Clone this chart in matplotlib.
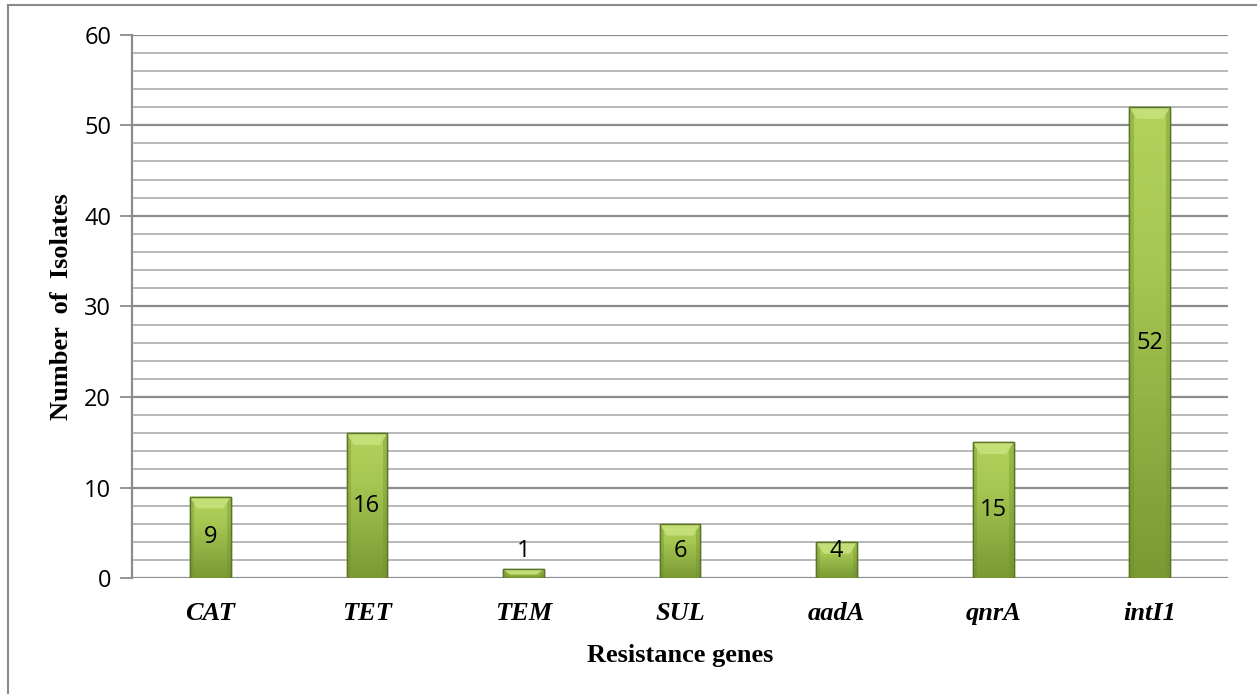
import numpy as np
import matplotlib
matplotlib.use('Agg')
import matplotlib.pyplot as plt
from matplotlib.colors import LinearSegmentedColormap
from matplotlib.patches import Rectangle

genes = ['CAT', 'TET', 'TEM', 'SUL', 'aadA', 'qnrA', 'intI1']
isolates = [9, 16, 1, 6, 4, 15, 52]

fig = plt.figure(figsize=(12.57, 6.94), dpi=100)
ax = fig.add_axes([0.105, 0.167, 0.872, 0.783])

# outer chart frame
fig.patches.append(Rectangle((0.0064, -0.01), 1.0, 1.0028, transform=fig.transFigure,
                             fill=False, edgecolor='#8a8a8a', linewidth=1.5))

x = np.arange(len(genes))
width = 0.26
bars = ax.bar(x, isolates, width=width, color='#9bbb59', edgecolor='#5f7a2b',
              linewidth=1.0, zorder=3)

# vertical shading on each bar: light green at the top, olive at the base
green = LinearSegmentedColormap.from_list('g', ['#7a9a33', '#8fb044', '#a6c751', '#b2d25c'])
grad = np.linspace(0, 1, 128).reshape(-1, 1)
for b in bars:
    bx, by, bw, bh = b.get_x(), b.get_y(), b.get_width(), b.get_height()
    im = ax.imshow(grad, cmap=green, aspect='auto', origin='lower',
                   extent=(bx, bx + bw, by, by + bh), zorder=3.5)
    im.set_clip_path(b)
    # darker side strips
    ax.add_patch(Rectangle((bx, by), bw * 0.1, bh, color='#6f8c2c', alpha=0.35,
                           linewidth=0, zorder=3.55))
    ax.add_patch(Rectangle((bx + bw * 0.9, by), bw * 0.1, bh, color='#6f8c2c', alpha=0.35,
                           linewidth=0, zorder=3.55))
    # bevelled top edge
    cap = min(1.3, bh * 0.6)
    ax.fill([bx, bx + bw, bx + bw * 0.82, bx + bw * 0.18],
            [by + bh, by + bh, by + bh - cap, by + bh - cap],
            color='#c4df78', zorder=3.6, linewidth=0)
    ax.add_patch(Rectangle((bx, by), bw, bh, fill=False, edgecolor='#5a7428',
                           linewidth=1.0, zorder=3.7))

for xi, v in zip(x, isolates):
    ax.text(xi, max(v / 2, 3), str(v), ha='center', va='center', fontsize=17,
            family='Open Sans', zorder=5)

ax.set_xlim(-0.5, len(genes) - 0.5)
ax.set_ylim(0, 60)
ax.set_yticks(range(0, 61, 10))
ax.set_yticks(range(0, 61, 2), minor=True)
ax.grid(axis='y', which='major', color='#8c8c8c', linewidth=1.6, zorder=0)
ax.grid(axis='y', which='minor', color='#b8b8b8', linewidth=1.4, zorder=0)
ax.tick_params(axis='y', which='major', length=9, width=1.3, color='#8c8c8c',
               labelsize=17, pad=6)
ax.tick_params(axis='y', which='minor', length=0)
ax.tick_params(axis='x', length=0, pad=17)
for lab in ax.get_yticklabels():
    lab.set_family('Open Sans')

ax.set_xticks(x)
ax.set_xticklabels(genes, fontsize=19, family='Liberation Serif',
                   fontweight='bold', style='italic')

for side in ['top', 'right', 'bottom']:
    ax.spines[side].set_visible(False)
ax.spines['left'].set_color('#8c8c8c')
ax.spines['left'].set_linewidth(1.6)

ax.set_ylabel('Number  of  Isolates', fontsize=19, family='Liberation Serif',
              fontweight='bold', labelpad=8)
ax.set_xlabel('Resistance genes', fontsize=19, family='Liberation Serif',
              fontweight='bold', labelpad=14)

fig.savefig('out.png', dpi=100)
